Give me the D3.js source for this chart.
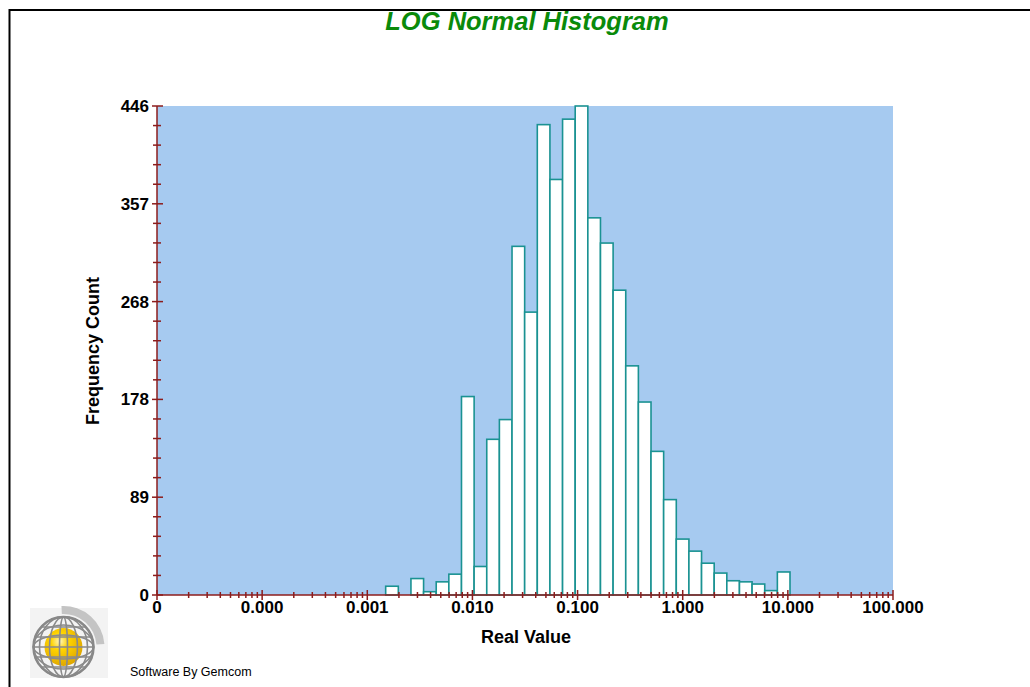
<!DOCTYPE html>
<html>
<head>
<meta charset="utf-8">
<script src="https://cdn.jsdelivr.net/npm/d3@7"></script>
<style>
  html, body { margin: 0; padding: 0; background: #ffffff; }
  svg { display: block; }
</style>
</head>
<body>
<svg id="chart" width="1030" height="687"></svg>
<script>
// ---------------- data ----------------
const title = "LOG Normal Histogram";
const xAxisTitle = "Real Value";
const yAxisTitle = "Frequency Count";
const footer = "Software By Gemcom";

// histogram range of the data (real values) and counts per log-equal bin
const dataMin = 0.001496;
const dataMax = 10.48;
const counts = [8, 0, 15, 3, 12, 19, 181, 26, 142, 160,
                318, 258, 429, 379, 434, 446, 344, 321, 278, 209,
                176, 131, 87, 51, 40, 29, 20, 13, 12, 10,
                4, 21];

// axes
const xDomain = [0.00001, 100];
const xTickValues = [0.00001, 0.0001, 0.001, 0.01, 0.1, 1, 10, 100];
const xTickLabels = ["0", "0.000", "0.001", "0.010", "0.100", "1.000", "10.000", "100.000"];
const yMax = 446;
const yTickValues = [0, 89.2, 178.4, 267.6, 356.8, 446];
const yTickLabels = ["0", "89", "178", "268", "357", "446"];
const yMinorPerMajor = 5;

// ---------------- drawing ----------------
const svg = d3.select("#chart");
const W = 1030, H = 687;
const plot = { left: 157, right: 893, top: 106, bottom: 595 };
const axisColor = "#8c1c1c";
const fontFam = "Arial, 'Liberation Sans', Helvetica, sans-serif";

// frame lines (top and left)
svg.append("line").attr("x1", 9).attr("x2", W).attr("y1", 10).attr("y2", 10)
  .attr("stroke", "#000").attr("stroke-width", 2);
svg.append("line").attr("x1", 9.5).attr("x2", 9.5).attr("y1", 9).attr("y2", H)
  .attr("stroke", "#000").attr("stroke-width", 2);

// title
svg.append("text").attr("x", 527).attr("y", 30)
  .attr("text-anchor", "middle")
  .attr("font-family", fontFam).attr("font-size", 25.5)
  .attr("font-weight", "bold").attr("font-style", "italic")
  .attr("fill", "#0a8a0a").text(title);

const x = d3.scaleLog().domain(xDomain).range([plot.left, plot.right]);
const y = d3.scaleLinear().domain([0, yMax]).range([plot.bottom, plot.top]);

// plot background
svg.append("rect")
  .attr("x", plot.left).attr("y", plot.top)
  .attr("width", plot.right - plot.left).attr("height", plot.bottom - plot.top)
  .attr("fill", "#a6caf0");

// bins (equal width in log space)
const nb = counts.length;
const lMin = Math.log10(dataMin), lMax = Math.log10(dataMax);
const edges = d3.range(nb + 1).map(i => Math.pow(10, lMin + (lMax - lMin) * i / nb));
const bins = counts.map((c, i) => ({ x0: edges[i], x1: edges[i + 1], c }));

svg.append("g").selectAll("rect")
  .data(bins.filter(b => b.c > 0))
  .join("rect")
  .attr("x", d => x(d.x0))
  .attr("width", d => x(d.x1) - x(d.x0))
  .attr("y", d => y(d.c))
  .attr("height", d => y(0) - y(d.c))
  .attr("fill", "#ffffff")
  .attr("stroke", "#1a9292")
  .attr("stroke-width", 1.6);

// x axis
const xMinor = [];
for (let e = -5; e < 2; e++) {
  for (let m = 2; m <= 9; m++) xMinor.push(m * Math.pow(10, e));
}
const gx = svg.append("g");
gx.append("line").attr("x1", plot.left).attr("x2", plot.right)
  .attr("y1", plot.bottom).attr("y2", plot.bottom)
  .attr("stroke", axisColor).attr("stroke-width", 1.5);
gx.selectAll("line.minor").data(xMinor).join("line").attr("class", "minor")
  .attr("x1", d => x(d)).attr("x2", d => x(d))
  .attr("y1", plot.bottom - 3).attr("y2", plot.bottom + 3)
  .attr("stroke", axisColor).attr("stroke-width", 1.5);
gx.selectAll("line.major").data(xTickValues).join("line").attr("class", "major")
  .attr("x1", d => x(d)).attr("x2", d => x(d))
  .attr("y1", plot.bottom - 5).attr("y2", plot.bottom + 5)
  .attr("stroke", axisColor).attr("stroke-width", 1.5);
gx.selectAll("text").data(xTickValues).join("text")
  .attr("x", d => x(d)).attr("y", 613)
  .attr("text-anchor", "middle")
  .attr("font-family", fontFam).attr("font-size", 17).attr("font-weight", "bold")
  .attr("fill", "#000")
  .text((d, i) => xTickLabels[i]);

// y axis
const yMinor = d3.range(0, yTickValues.length - 1).flatMap(k =>
  d3.range(1, yMinorPerMajor).map(j => yTickValues[k] + (yTickValues[k + 1] - yTickValues[k]) * j / yMinorPerMajor));
const gy = svg.append("g");
gy.append("line").attr("x1", plot.left).attr("x2", plot.left)
  .attr("y1", plot.top).attr("y2", plot.bottom)
  .attr("stroke", axisColor).attr("stroke-width", 1.5);
gy.selectAll("line.minor").data(yMinor).join("line").attr("class", "minor")
  .attr("x1", plot.left - 4).attr("x2", plot.left + 4)
  .attr("y1", d => y(d)).attr("y2", d => y(d))
  .attr("stroke", axisColor).attr("stroke-width", 1.5);
gy.selectAll("line.major").data(yTickValues).join("line").attr("class", "major")
  .attr("x1", plot.left - 5).attr("x2", plot.left + 6)
  .attr("y1", d => y(d)).attr("y2", d => y(d))
  .attr("stroke", axisColor).attr("stroke-width", 1.5);
gy.selectAll("text").data(yTickValues).join("text")
  .attr("x", 149).attr("y", d => y(d))
  .attr("dy", "0.35em")
  .attr("text-anchor", "end")
  .attr("font-family", fontFam).attr("font-size", 17).attr("font-weight", "bold")
  .attr("fill", "#000")
  .text((d, i) => yTickLabels[i]);

// axis titles
svg.append("text").attr("x", 526).attr("y", 643)
  .attr("text-anchor", "middle")
  .attr("font-family", fontFam).attr("font-size", 18).attr("font-weight", "bold")
  .attr("fill", "#000").text(xAxisTitle);
svg.append("text")
  .attr("transform", "translate(99,351) rotate(-90)")
  .attr("text-anchor", "middle")
  .attr("font-family", fontFam).attr("font-size", 18).attr("font-weight", "bold")
  .attr("fill", "#000").text(yAxisTitle);

// footer
svg.append("text").attr("x", 130).attr("y", 676)
  .attr("font-family", fontFam).attr("font-size", 12.5)
  .attr("fill", "#000").text(footer);

// logo
const logo = svg.append("g");
logo.append("rect").attr("x", 30).attr("y", 608).attr("width", 78).attr("height", 70).attr("fill", "#f3f3f3");
const cx = 63.5, cy = 647;
const arc = d3.arc().innerRadius(33).outerRadius(41).startAngle(-0.05).endAngle(Math.PI / 2.1);
logo.append("path").attr("d", arc()).attr("transform", `translate(${cx},${cy})`).attr("fill", "#c4c4c4");
const grad = svg.append("defs").append("radialGradient").attr("id", "ball").attr("cx", "40%").attr("cy", "35%").attr("r", "65%");
grad.append("stop").attr("offset", "0%").attr("stop-color", "#fff6c0");
grad.append("stop").attr("offset", "35%").attr("stop-color", "#ffd400");
grad.append("stop").attr("offset", "100%").attr("stop-color", "#e0a800");
logo.append("circle").attr("cx", cx).attr("cy", cy).attr("r", 19).attr("fill", "url(#ball)");
[[30, 30], [24, 30], [14, 30], [4, 30]].forEach(([rx, ry]) => {
  logo.append("ellipse").attr("cx", cx).attr("cy", cy).attr("rx", rx).attr("ry", ry)
    .attr("fill", "none").attr("stroke", "#8a8a8a").attr("stroke-width", 1.6);
});
[[30, 22], [30, 12]].forEach(([rx, ry]) => {
  logo.append("ellipse").attr("cx", cx).attr("cy", cy).attr("rx", rx).attr("ry", ry)
    .attr("fill", "none").attr("stroke", "#8a8a8a").attr("stroke-width", 1.6);
});
[-20, -10, 0, 10, 20].forEach(dy => {
  const hw = Math.sqrt(30 * 30 - dy * dy);
  logo.append("line").attr("x1", cx - hw).attr("x2", cx + hw).attr("y1", cy + dy).attr("y2", cy + dy)
    .attr("stroke", "#8a8a8a").attr("stroke-width", 1.4);
});
logo.append("circle").attr("cx", cx).attr("cy", cy).attr("r", 30)
  .attr("fill", "none").attr("stroke", "#888").attr("stroke-width", 2.5);
</script>
</body>
</html>
